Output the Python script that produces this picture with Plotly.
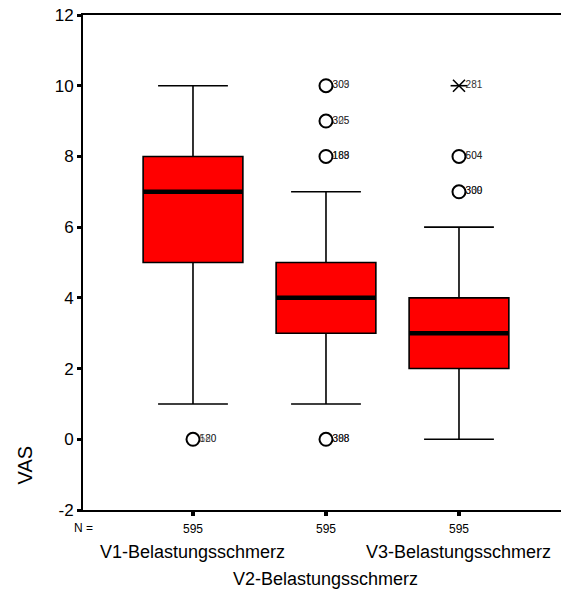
import plotly.graph_objects as go

# Box statistics of the visual analogue scale (VAS) per measurement
categories = ["V1-Belastungsschmerz", "V2-Belastungsschmerz", "V3-Belastungsschmerz"]
n_cases = [595, 595, 595]
q1 = [5, 3, 2]
median = [7, 4, 3]
q3 = [8, 5, 4]
lower_whisker = [1, 1, 0]
upper_whisker = [10, 7, 6]

# Outliers (circles) with case numbers; several cases share one value
outlier_group = [1, 2, 2, 2, 2, 3, 3]
outlier_value = [0, 10, 9, 8, 0, 8, 7]
outlier_cases = [["580", "120"], ["309", "303"], ["325", "305"],
                 ["183", "188", "169"], ["398", "388", "308"],
                 ["504", "604"], ["300", "309", "330"]]

# Extreme values (asterisks)
extreme_group = [3]
extreme_value = [10]
extreme_cases = [["281"]]

y_ticks = [-2, 0, 2, 4, 6, 8, 10, 12]

BOX_W = 0.75
FONT = "Liberation Sans, Arial, sans-serif"
pos = [1, 2, 3]

fig = go.Figure()

fig.add_trace(go.Box(
    x=pos, q1=q1, median=median, q3=q3,
    lowerfence=lower_whisker, upperfence=upper_whisker,
    boxpoints=False, width=BOX_W, whiskerwidth=0.7,
    fillcolor="#ff0000", line=dict(color="black", width=1.6),
    showlegend=False, hoverinfo="skip",
))

# Thick median bars
for p, m in zip(pos, median):
    fig.add_trace(go.Scatter(
        x=[p - BOX_W / 2, p + BOX_W / 2], y=[m, m], mode="lines",
        line=dict(color="black", width=4.5), showlegend=False, hoverinfo="skip",
    ))

label_font = dict(family=FONT, size=10, color="rgba(20,20,20,0.7)")


def case_labels(g, v, cases, font):
    # invisible marker so the text sits right against the symbol
    for c in cases:
        fig.add_trace(go.Scatter(
            x=[g], y=[v], mode="markers+text", text=[c],
            textposition="middle right", textfont=font,
            marker=dict(size=9, color="rgba(0,0,0,0)"),
            showlegend=False, hoverinfo="skip", cliponaxis=False,
        ))


# Outlier circles and their case labels (labels overlap like stacked cases)
for g, v, cases in zip(outlier_group, outlier_value, outlier_cases):
    fig.add_trace(go.Scatter(
        x=[g], y=[v], mode="markers",
        marker=dict(symbol="circle-open", size=13, color="black",
                    line=dict(width=2)),
        showlegend=False, hoverinfo="skip",
    ))
    case_labels(g, v, cases, label_font)

for g, v, cases in zip(extreme_group, extreme_value, extreme_cases):
    for sym in ["line-ew-open", "x-thin-open"]:
        fig.add_trace(go.Scatter(
            x=[g], y=[v], mode="markers",
            marker=dict(symbol=sym, size=12, color="black",
                        line=dict(width=1.6, color="black")),
            showlegend=False, hoverinfo="skip",
        ))
    case_labels(g, v, cases, dict(family=FONT, size=10, color="#333333"))

# "N =" row label, VAS title and staggered category names
annotations = [
    dict(x=0, y=-0.037, xref="paper", yref="paper", text="N =",
         showarrow=False, font=dict(family=FONT, size=12, color="black"),
         xanchor="center", yanchor="middle"),
    dict(x=-58 / 478, y=0.09, xref="paper", yref="paper", text="VAS",
         showarrow=False, textangle=-90,
         font=dict(family=FONT, size=20, color="black"),
         xanchor="center", yanchor="middle"),
]
for i, (p, name) in enumerate(zip(pos, categories)):
    annotations.append(dict(
        x=p, y=-0.085 if i % 2 == 0 else -0.14, xref="x", yref="paper",
        text=name, showarrow=False,
        font=dict(family=FONT, size=18, color="black"),
        xanchor="center", yanchor="middle",
    ))

fig.update_layout(
    width=561, height=596,
    margin=dict(l=83, r=0, t=15, b=86),
    plot_bgcolor="white", paper_bgcolor="white",
    font=dict(family=FONT, color="black"),
    annotations=annotations,
    xaxis=dict(
        range=[0.173, 3.767], tickvals=pos, ticktext=[str(n) for n in n_cases],
        tickfont=dict(family=FONT, size=12), ticks="outside", ticklen=4,
        tickwidth=4, tickcolor="black", ticklabelstandoff=3,
        showline=True, linecolor="black",
        linewidth=2, mirror=True, showgrid=False, zeroline=False,
    ),
    yaxis=dict(
        range=[-2, 12], tickvals=y_ticks, ticktext=[str(t) for t in y_ticks],
        tickfont=dict(family=FONT, size=17),
        ticks="outside", ticklen=4, tickwidth=3, tickcolor="black",
        showline=True, linecolor="black", linewidth=2, showgrid=False,
        zeroline=False,
    ),
)

fig.write_html("out.html")
